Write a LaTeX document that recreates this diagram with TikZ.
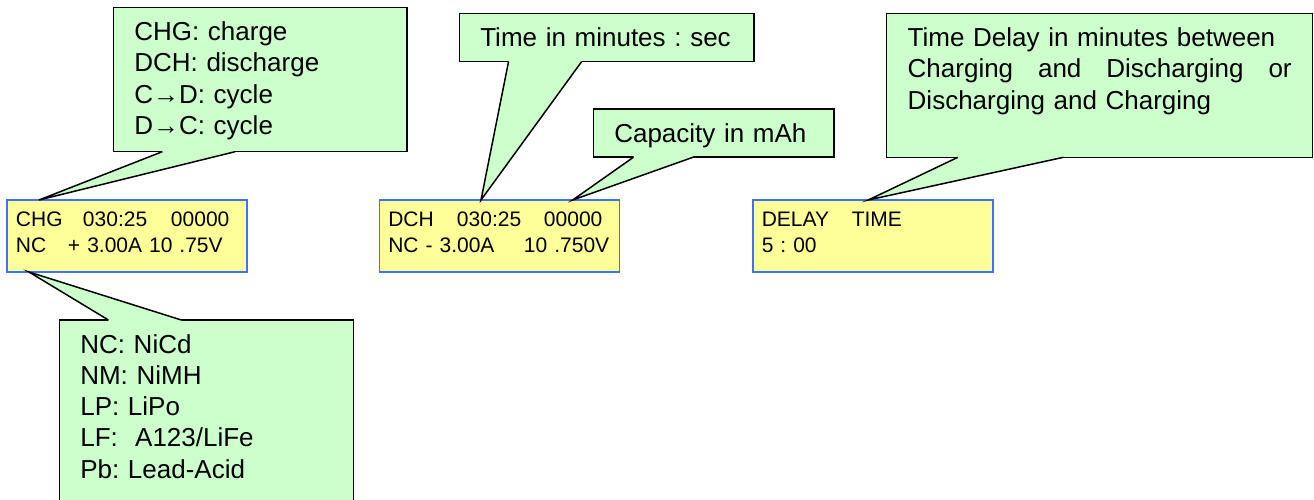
\documentclass[tikz,border=0pt]{standalone}
\usepackage{fontspec}
\setmainfont{Liberation Sans}
\frenchspacing
\usepackage{tikz}
\usetikzlibrary{calc}
\definecolor{notegreen}{RGB}{204,255,204}
\definecolor{lcdyellow}{RGB}{255,255,153}
\definecolor{lcdblue}{RGB}{64,112,255}
\tikzset{
  note/.style = {draw, line width=1.5pt, fill=notegreen, anchor=north west, outer sep=0pt,
    inner xsep=21pt, inner ysep=0pt, text height=33.4pt, align=left,
    font=\fontsize{26pt}{31.2pt}\selectfont},
  lcd/.style = {draw=lcdblue, line width=1.5pt, fill=lcdyellow, anchor=north west, outer sep=0pt,
    inner xsep=9pt, inner ysep=0pt, text width=222pt, text height=27pt, text depth=45pt,
    align=left, font=\fontsize{21pt}{25.2pt}\selectfont},
  tail/.style = {draw, line width=1.5pt, line join=miter}
}
% pointer of a note: #1 note, #2 side, #3 inward shift, #4 tip
\newcommand{\calloutTail}[4]{%
  \fill[notegreen] ($(#1.#2 west)!0.167!(#1.#2 east)+(0,#3)$) -- ($(#1.#2 west)!0.167!(#1.#2 east)$)
    -- (#4) -- ($(#1.#2 west)!0.415!(#1.#2 east)$) -- ($(#1.#2 west)!0.415!(#1.#2 east)+(0,#3)$) -- cycle;
  \draw[tail] ($(#1.#2 west)!0.167!(#1.#2 east)$) -- (#4) -- ($(#1.#2 west)!0.415!(#1.#2 east)$);}

\begin{document}
\begin{tikzpicture}[x=1pt,y=1pt]
  \useasboundingbox (0,0) rectangle (1314,500);

  % displays
  \node[lcd] (chgLcd) at (7,300) {\makebox[67pt][l]{CHG}\makebox[88pt][l]{030:25}00000\\
    \makebox[52pt][l]{NC}+ 3.00A 10 .75V};
  \node[lcd] (dchLcd) at (379.3,300) {\makebox[68.7pt][l]{DCH}\makebox[87pt][l]{030:25}00000\\
    \makebox[135.7pt][l]{NC - 3.00A}10 .750V};
  \node[lcd] (delayLcd) at (752.8,300) {\makebox[90pt][l]{DELAY}TIME\\ 5 : 00};

  % notes
  \node[note, text width=251.5pt, text depth=111pt] (chgNote) at (113.3,492.7)
    {CHG: charge\\ DCH: discharge\\ C→D: cycle\\ D→C: cycle};
  \node[note, text width=252.7pt, text depth=15pt] (timeNote) at (459.3,486.7)
    {Time in minutes : sec};
  \node[note, text width=198.7pt, text depth=14.8pt] (capNote) at (593.3,391)
    {Capacity in mAh};
  \node[note, text width=384pt, text depth=110.6pt] (delayNote) at (886.7,486.7)
    {Time Delay in minutes between\\
     \leavevmode\hbox to 384pt{Charging\hfill\ and\hfill\ Discharging\hfill\ or}\\
     Discharging and Charging};
  \node[note, text width=252pt, text depth=200pt] (typeNote) at (59.3,180)
    {NC: NiCd\\ NM: NiMH\\ LP: LiPo\\ LF:\ \ A123/LiFe\\ Pb: Lead-Acid};

  % pointers
  \coordinate (chgTip) at ([xshift=32pt]chgLcd.north west);
  \coordinate (typeTip) at ([xshift=22pt]chgLcd.south west);
  \coordinate (timeTip) at ([xshift=101.7pt]dchLcd.north west);
  \coordinate (capTip) at ([xshift=193.4pt]dchLcd.north west);
  \coordinate (delayTip) at ([xshift=115.5pt]delayLcd.north west);

  \calloutTail{chgNote}{south}{1.5pt}{chgTip}
  \calloutTail{typeNote}{north}{-1.5pt}{typeTip}
  \calloutTail{timeNote}{south}{1.5pt}{timeTip}
  \calloutTail{capNote}{south}{1.5pt}{capTip}
  \calloutTail{delayNote}{south}{1.5pt}{delayTip}
\end{tikzpicture}
\end{document}
